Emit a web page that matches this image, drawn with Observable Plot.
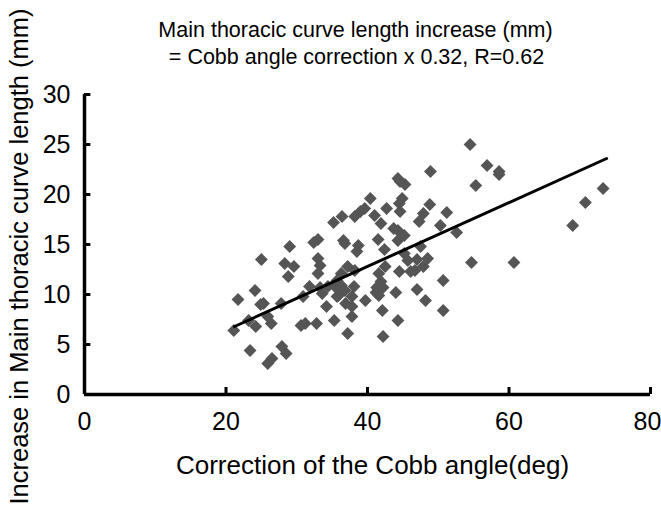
<!DOCTYPE html>
<html>
<head>
<meta charset="utf-8">
<script src="https://cdn.jsdelivr.net/npm/d3@7"></script>
<script src="https://cdn.jsdelivr.net/npm/@observablehq/plot@0.6"></script>
<style>
  html, body { margin: 0; padding: 0; background: #fff; }
  svg { display: block; }
</style>
</head>
<body>
<div id="chart"></div>
<script>
const titleLines = ["Main thoracic curve length increase (mm)", "= Cobb angle correction x 0.32, R=0.62"];
const xLabel = "Correction of the Cobb angle(deg)";
const yLabel = "Increase in Main thoracic curve length (mm)";
const xTicks = [0, 20, 40, 60, 80];
const yTicks = [0, 5, 10, 15, 20, 25, 30];

const cobbCorrection = [
  54.5, 56.9, 58.6, 58.6, 48.9, 55.3, 73.3, 70.8, 69.0, 60.7,
  54.7, 52.6, 51.2, 50.3, 50.7, 50.7, 48.8, 47.9, 47.3, 47.5,
  47.0, 48.5, 46.7, 47.9, 47.0, 48.2, 45.2, 45.2, 45.7, 46.1,
  44.3, 44.6, 45.3, 44.9, 44.5, 44.6, 43.7, 44.3, 44.3, 44.5,
  44.0, 44.3, 42.7, 41.9, 41.0, 41.5, 42.4, 42.5, 41.6, 41.9,
  41.3, 42.2, 41.6, 41.2, 42.1, 42.2, 40.4, 39.6, 39.0, 38.2,
  38.7, 38.5, 38.2, 38.1, 37.8, 37.8, 37.8, 39.7, 36.4, 36.6,
  36.8, 35.2, 36.3, 35.7, 36.3, 35.4, 36.8, 36.9, 35.9, 35.7,
  37.2, 35.3, 37.2, 34.4, 34.2, 33.6, 33.0, 32.4, 33.0, 33.3,
  33.0, 33.3, 32.8, 31.8, 30.9, 30.6, 31.2, 29.0, 29.6, 28.3,
  28.8, 27.8, 27.9, 28.5, 26.5, 25.9, 26.4, 25.9, 25.3, 24.9,
  25.0, 24.1, 24.2, 23.2, 23.4, 21.7, 21.1
];
const lengthIncrease = [
  25.0, 22.9, 22.3, 22.0, 22.3, 20.9, 20.6, 19.2, 16.9, 13.2,
  13.2, 16.2, 18.2, 16.9, 11.4, 8.4, 19.0, 18.1, 17.3, 14.8,
  13.5, 13.6, 12.4, 12.8, 10.5, 9.4, 15.9, 14.1, 13.4, 12.3,
  21.6, 21.3, 21.0, 19.6, 19.1, 18.3, 16.6, 16.4, 15.4, 12.3,
  10.2, 7.4, 18.6, 17.1, 17.9, 15.5, 14.5, 12.8, 12.1, 11.3,
  10.7, 10.7, 9.9, 10.2, 8.4, 5.8, 19.6, 18.6, 18.3, 17.8,
  14.9, 14.3, 12.4, 10.8, 9.8, 8.8, 7.8, 9.4, 17.8, 15.4,
  15.1, 17.2, 12.1, 11.4, 10.9, 10.8, 10.4, 9.1, 9.9, 9.8,
  6.1, 7.4, 12.8, 10.8, 8.8, 10.1, 15.5, 15.2, 13.6, 12.9,
  12.1, 10.7, 7.1, 10.8, 9.8, 6.9, 7.1, 14.8, 12.8, 13.1,
  11.8, 9.1, 4.8, 4.1, 3.6, 3.1, 7.1, 7.8, 9.1, 9.0,
  13.5, 10.4, 6.8, 7.4, 4.4, 9.5, 6.4
];
const fitX = [21.2, 73.8];
const fitY = [6.8, 23.6];

const points = cobbCorrection.map((x, i) => ({x, y: lengthIncrease[i]}));
const fit = fitX.map((x, i) => ({x, y: fitY[i]}));

const font = "Arial, 'Liberation Sans', sans-serif";

const chart = Plot.plot({
  width: 661,
  height: 513,
  marginLeft: 84,
  marginRight: 11,
  marginTop: 94,
  marginBottom: 119,
  style: {fontFamily: font, background: "#fff", color: "#000"},
  x: {domain: [0, 80], type: "linear", axis: null},
  y: {domain: [0, 30], type: "linear", axis: null},
  marks: [
    Plot.dot(points, {x: "x", y: "y", symbol: "diamond2", r: 5.8, fill: "#555555", stroke: "none"}),
    Plot.line(fit, {x: "x", y: "y", stroke: "#000", strokeWidth: 3}),
    Plot.ruleX(xTicks.slice(1), {x: d => d, y1: 0, y2: 0.7, stroke: "#000", strokeWidth: 3}),
    Plot.ruleY(yTicks.slice(1), {y: d => d, x1: 0, x2: 0.9, stroke: "#000", strokeWidth: 3}),
    Plot.ruleY([0], {y: d => d, x1: 0, x2: 80, stroke: "#000", strokeWidth: 3.5}),
    Plot.ruleX([0], {x: d => d, y1: 0, y2: 30, stroke: "#000", strokeWidth: 3.5}),
    Plot.text(xTicks.slice(0, 4), {x: d => d, y: 0, dy: 27, fontSize: 25, fill: "#000", text: d => String(d)}),
    Plot.text(xTicks.slice(4), {x: d => d, y: 0, dy: 27, dx: -3, fontSize: 25, fill: "#000", text: d => String(d)}),
    Plot.text(yTicks, {x: 0, y: d => d, dx: -14, textAnchor: "end", fontSize: 25, fill: "#000", text: d => String(d)}),
    Plot.text([xLabel], {frameAnchor: "bottom", lineAnchor: "middle", dx: 5, dy: 71, fontSize: 26, fill: "#000", text: d => d}),
    Plot.text([yLabel], {frameAnchor: "left", textAnchor: "middle", lineAnchor: "middle", dx: -65, dy: 12, rotate: -90, fontSize: 25.5, fill: "#000", text: d => d}),
    Plot.text([titleLines[0]], {frameAnchor: "top", lineAnchor: "middle", dx: -12, dy: -64, fontSize: 21.5, fill: "#000", text: d => d}),
    Plot.text([titleLines[1]], {frameAnchor: "top", lineAnchor: "middle", dx: -11, dy: -37, fontSize: 21.5, fill: "#000", text: d => d})
  ]
});
document.getElementById("chart").appendChild(chart);
</script>
</body>
</html>
